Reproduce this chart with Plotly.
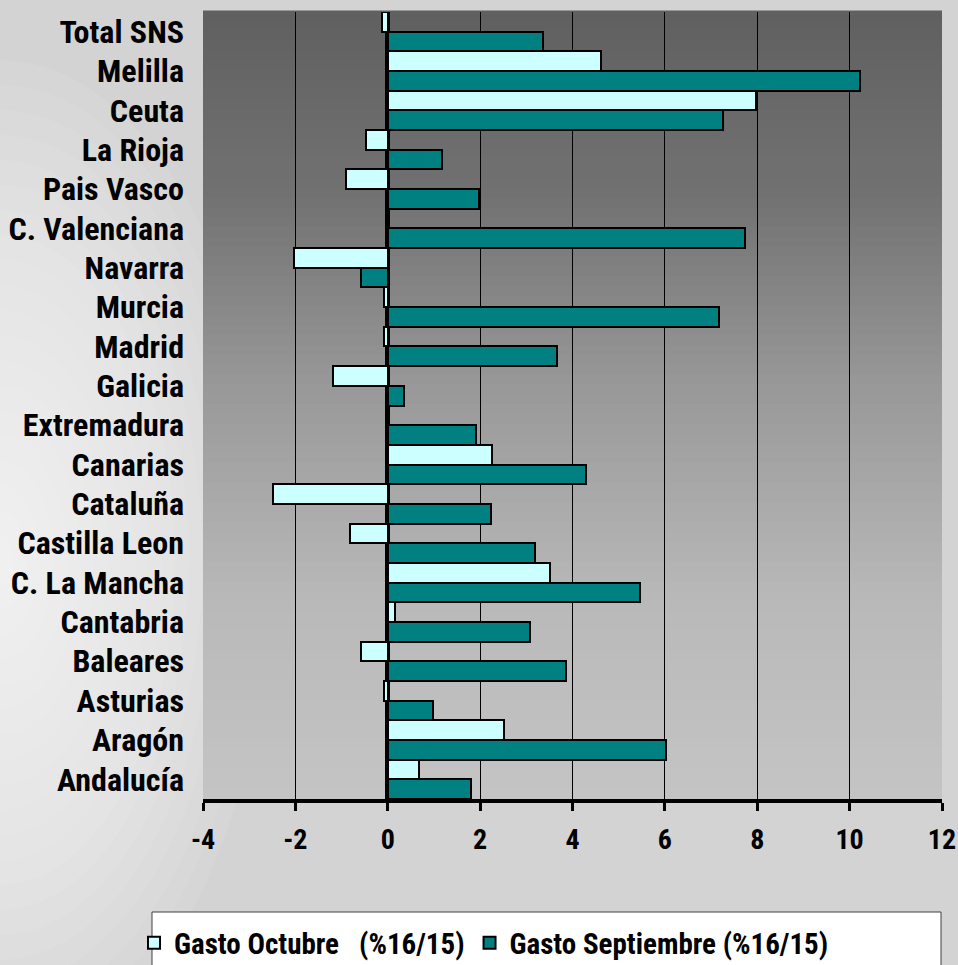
import numpy as np
import plotly.graph_objects as go

# ---- data (top-to-bottom as in the picture) ----
regions = ["Total SNS", "Melilla", "Ceuta", "La Rioja", "Pais Vasco", "C. Valenciana",
           "Navarra", "Murcia", "Madrid", "Galicia", "Extremadura", "Canarias",
           "Cataluña", "Castilla Leon", "C. La Mancha", "Cantabria", "Baleares",
           "Asturias", "Aragón", "Andalucía"]
gasto_octubre = [-0.12, 4.61, 7.97, -0.47, -0.91, None,
                 -2.02, -0.09, -0.08, -1.19, None, 2.26,
                 -2.48, -0.81, 3.51, 0.16, -0.59,
                 -0.08, 2.51, 0.68]
gasto_septiembre = [3.37, 10.22, 7.25, 1.18, 1.98, 7.73,
                    -0.58, 7.18, 3.66, 0.35, 1.90, 4.29,
                    2.24, 3.19, 5.46, 3.08, 3.85,
                    0.97, 6.02, 1.80]
series_names = ["Gasto Octubre&nbsp;&nbsp; (%16/15)", "Gasto Septiembre (%16/15)"]
x_ticks = [-4, -2, 0, 2, 4, 6, 8, 10, 12]

FONT = "Liberation Sans Narrow, Arial Narrow, Roboto Condensed, Liberation Sans, Arial, sans-serif"

W, H = 958, 965
ML, MR, MT, MB = 203, 16, 12, 166
PW, PH = W - ML - MR, H - MT - MB

def px_x(p):
    return (p - ML) / PW

def px_y(p):
    return (H - MB - p) / PH

fig = go.Figure()
fig.add_trace(go.Bar(
    y=regions, x=gasto_octubre, orientation="h", name=series_names[0],
    marker=dict(color="#ccffff", line=dict(color="black", width=2)),
))
fig.add_trace(go.Bar(
    y=regions, x=gasto_septiembre, orientation="h", name=series_names[1],
    marker=dict(color="#008080", line=dict(color="black", width=2)),
))

shapes = []
# page glow (nested ellipses, paper coords)
n_glow = 20
for i in range(n_glow):
    f = 1 - i / n_glow
    rx, ry = 270 * f, 500 * f
    cx, cy = 0, 560
    shapes.append(dict(type="circle", xref="paper", yref="paper", layer="below",
                       x0=px_x(cx - rx), x1=px_x(cx + rx), y0=px_y(cy + ry), y1=px_y(cy - ry),
                       fillcolor="white", opacity=0.07, line=dict(width=0)))

# plot-area vertical gradient
ctrl_y = [0.0, 0.24, 0.49, 0.75, 1.0]
ctrl_v = [96, 114, 154, 185, 196]
n = 80
for i in range(n):
    t0, t1 = i / n, (i + 1) / n
    v = int(round(np.interp((t0 + t1) / 2, ctrl_y, ctrl_v)))
    shapes.append(dict(type="rect", xref="x domain", yref="y domain", layer="below",
                       x0=0, x1=1, y0=1 - t1, y1=1 - t0 + 0.002,
                       fillcolor=f"rgb({v},{v},{v})", line=dict(width=0)))

# legend box
shapes.append(dict(type="rect", xref="paper", yref="paper", layer="below",
                   x0=px_x(152), x1=px_x(941), y0=px_y(975), y1=px_y(912),
                   fillcolor="white", line=dict(color="#404040", width=1)))

fig.update_layout(
    width=W, height=H,
    margin=dict(l=ML, r=MR, t=MT, b=MB, pad=0, autoexpand=False),
    paper_bgcolor="#d3d3d3",
    plot_bgcolor="rgba(0,0,0,0)",
    barmode="group", bargap=0, bargroupgap=0,
    font=dict(family=FONT, color="black"),
    shapes=shapes,
    showlegend=True,
    legend=dict(orientation="h", x=px_x(134), xanchor="left",
                y=px_y(943), yanchor="middle",
                bgcolor="rgba(0,0,0,0)", borderwidth=0,
                font=dict(family=FONT, size=29, color="black", weight="bold"),
                itemsizing="constant", traceorder="normal"),
    xaxis=dict(range=[-4, 12], tickvals=x_ticks, ticktext=[str(v) for v in x_ticks],
               showgrid=True, gridcolor="black", gridwidth=1,
               zeroline=True, zerolinecolor="black", zerolinewidth=5,
               showline=True, linecolor="black", linewidth=4,
               ticks="outside", ticklen=8, tickwidth=3, tickcolor="black",
               ticklabelstandoff=4,
               tickfont=dict(family=FONT, size=28, color="black", weight="bold"),
               fixedrange=True),
    yaxis=dict(autorange="reversed", showgrid=False, zeroline=False, showline=False,
               ticks="", ticklabelstandoff=18,
               tickfont=dict(family=FONT, size=32, color="black", weight="bold"),
               fixedrange=True),
)

fig.write_html("out.html")
